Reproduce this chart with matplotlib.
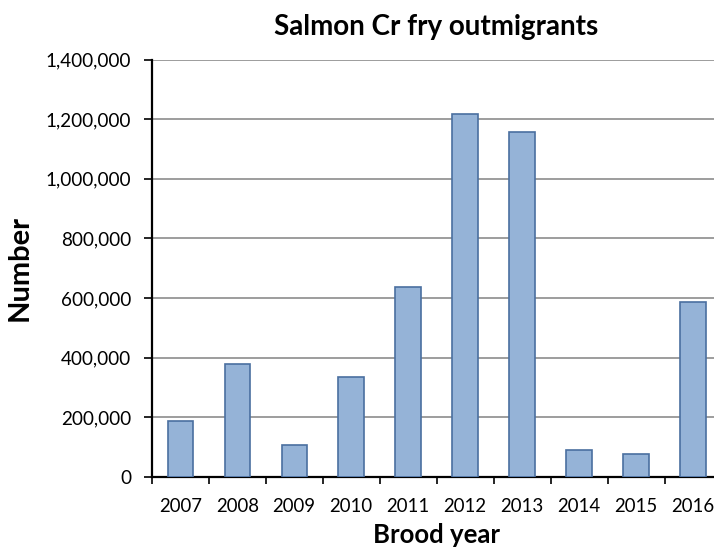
import matplotlib.pyplot as plt
import numpy as np

plt.rcParams['font.family'] = ['Lato', 'DejaVu Sans']

# brood years and fry outmigrant counts
years = ['2007', '2008', '2009', '2010', '2011', '2012', '2013', '2014', '2015', '2016']
fry = [189000, 380000, 108000, 335000, 638000, 1217000, 1156000, 90500, 77000, 586000]
yticks = [0, 200000, 400000, 600000, 800000, 1000000, 1200000, 1400000]

fig = plt.figure(figsize=(7.14, 5.52), dpi=100)
ax = fig.add_axes([0.2125, 0.1359, 0.798, 0.7563])

x = np.arange(len(years))
ax.bar(x, fry, width=0.444, color='#95B3D7', edgecolor='#4A6FA0', linewidth=1.2, zorder=3)

ax.set_xlim(-0.5, len(years) - 0.5)
ax.set_ylim(0, 1400000)
ax.set_yticks(yticks)
ax.set_yticklabels([f'{v:,}' for v in yticks])
ax.set_xticks(x)
ax.set_xticklabels(years)
ax.set_xticks(np.arange(-0.5, len(years)), minor=True)
ax.tick_params(axis='x', which='major', length=0, labelsize=13.4, pad=15)
ax.tick_params(axis='x', which='minor', length=5, width=1.2, direction='out')
ax.tick_params(axis='y', length=6, width=1.2, direction='out', labelsize=13.6, pad=9)

ax.grid(axis='y', color='#8C8C8C', linewidth=1.2, zorder=0)
for s in ['top', 'right']:
    ax.spines[s].set_visible(False)
ax.spines['left'].set_linewidth(1.6)
ax.spines['bottom'].set_linewidth(1.6)

ax.set_title('Salmon Cr fry outmigrants', fontsize=20, fontweight='bold', pad=18)
ax.set_ylabel('Number', fontsize=21, fontweight='bold', labelpad=9)
ax.set_xlabel('Brood year', fontsize=18.5, fontweight='bold', labelpad=6)

fig.savefig('out.png', dpi=100)
